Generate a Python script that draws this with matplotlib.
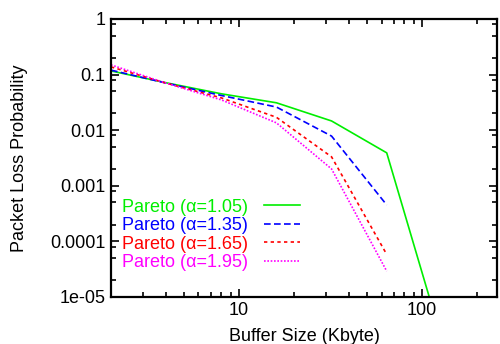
import matplotlib
matplotlib.use("Agg")
import matplotlib.pyplot as plt
import numpy as np
from matplotlib.ticker import LogLocator, NullFormatter, FixedLocator, FixedFormatter

plt.rcParams['font.family'] = ['Liberation Sans', 'DejaVu Sans']

buffer_kb = [2, 4, 8, 16, 32, 64, 128]
p105 = [0.116, 0.071, 0.045, 0.031, 0.0146, 0.0039, 1.7e-6]
p135 = [0.12, 0.07, 0.042, 0.026, 0.0078, 0.00045]
p165 = [0.137, 0.07, 0.038, 0.017, 0.0033, 5.8e-5]
p195 = [0.149, 0.07, 0.035, 0.0135, 0.002, 2.9e-5]
labels = ['Pareto (\u03b1=1.05)', 'Pareto (\u03b1=1.35)', 'Pareto (\u03b1=1.65)', 'Pareto (\u03b1=1.95)']
colors = ['#00ee00', '#0000ff', '#ff0000', '#ff00ff']

fig = plt.figure(figsize=(5.0, 3.44), dpi=100)
ax = fig.add_axes([0.222, 0.137, 0.772, 0.808])

series = [p105, p135, p165, p195]
styles = ['-', (0, (4, 2)), (0, (2, 2)), (0, (1, 1))]
for vals, lab, c, ls in zip(series, labels, colors, styles):
    ax.plot(buffer_kb[:len(vals)], vals, color=c, linestyle=ls, linewidth=1.2, label=lab)

ax.set_xscale('log')
ax.set_yscale('log')
ax.set_xlim(2, 256)
ax.set_ylim(1e-5, 1)

ax.xaxis.set_major_locator(FixedLocator([10, 100]))
ax.xaxis.set_major_formatter(FixedFormatter(['10', '100']))
ax.xaxis.set_minor_locator(LogLocator(base=10, subs=np.arange(2, 10)))
ax.xaxis.set_minor_formatter(NullFormatter())

yt = [1, 0.1, 0.01, 0.001, 0.0001, 1e-5]
ax.yaxis.set_major_locator(FixedLocator(yt))
ax.yaxis.set_major_formatter(FixedFormatter(['1', '0.1', '0.01', '0.001', '0.0001', '1e-05']))
ax.yaxis.set_minor_locator(LogLocator(base=10, subs=[2, 5, 8]))
ax.yaxis.set_minor_formatter(NullFormatter())

ax.tick_params(which='both', direction='in', top=True, right=True, labelsize=13, width=1.2)
ax.tick_params(which='major', length=6, pad=4)
ax.tick_params(which='minor', length=3.5)
for s in ax.spines.values():
    s.set_linewidth(1.6)

ax.set_xlabel('Buffer Size (Kbyte)', fontsize=13, labelpad=6)
ax.set_ylabel('Packet Loss Probability', fontsize=13, labelpad=16)

leg = ax.legend(loc='upper left', bbox_to_anchor=(0.0, 0.392), frameon=False, fontsize=13,
                markerfirst=False, handlelength=2.0, handletextpad=0.9,
                labelspacing=0.08, borderaxespad=0.2, labelcolor=colors)

fig.savefig('out.png', dpi=100)
